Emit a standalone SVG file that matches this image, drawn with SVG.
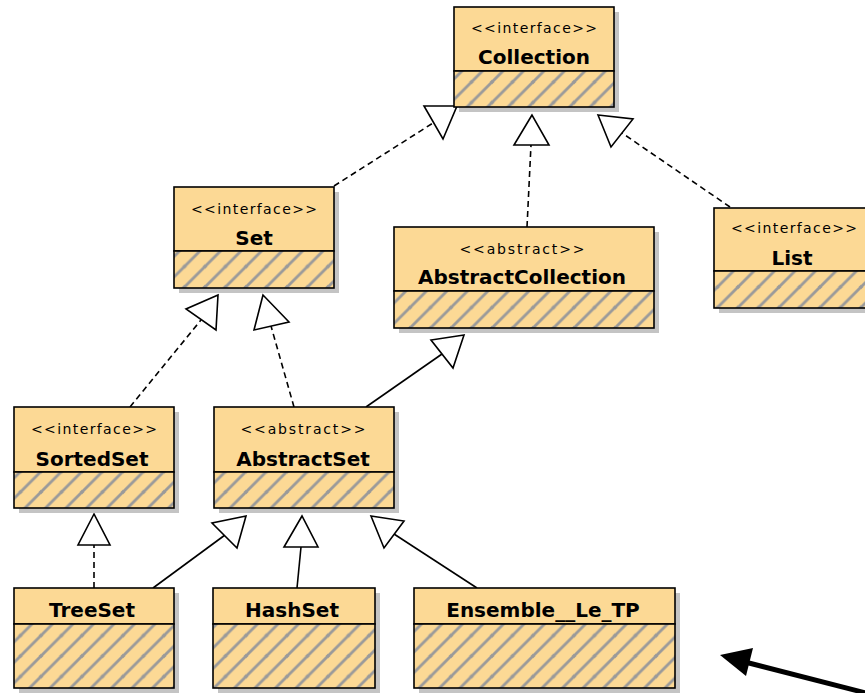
<svg xmlns="http://www.w3.org/2000/svg" width="865" height="693" viewBox="0 0 865 693">
<defs>
<pattern id="hatch" patternUnits="userSpaceOnUse" width="20.5" height="20.5">
<rect width="20.5" height="20.5" fill="#fcd995"/>
<path d="M-5,5.5 L5.5,-5 M0,20.5 L20.5,0 M15,25.5 L25.5,15" stroke="#9a9a9a" stroke-width="2.8"/>
</pattern>
</defs>
<style>
.shadow{fill:#c4c4c4}
.head{fill:#fcd995;stroke:#000;stroke-width:1.6}
.body{fill:url(#hatch);stroke:#000;stroke-width:1.6}
.st{font-family:"DejaVu Sans",sans-serif;font-size:14px;fill:#000;text-anchor:middle}
.nm{font-family:"DejaVu Sans",sans-serif;font-weight:bold;font-size:20px;fill:#000;text-anchor:middle}
.dash{fill:none;stroke:#000;stroke-width:1.6;stroke-dasharray:6 4}
.solid{fill:none;stroke:#000;stroke-width:1.6}
.tri{fill:#fff;stroke:#000;stroke-width:1.6;stroke-linejoin:miter}
</style>
<rect width="865" height="693" fill="#fff"/>

<g id="connectors">
<line class="dash" x1="334" y1="186" x2="433" y2="123"/>
<polygon class="tri" points="457,106 424,106 443,139"/>
<line class="dash" x1="527" y1="227" x2="531" y2="145"/>
<polygon class="tri" points="532,115 514,145 549,145"/>
<line class="dash" x1="730" y1="207" x2="622" y2="133"/>
<polygon class="tri" points="598,115 633,119 611,147"/>
<line class="dash" x1="130" y1="407" x2="201" y2="320"/>
<polygon class="tri" points="218,295 186,309 216,330"/>
<line class="dash" x1="294" y1="407" x2="271" y2="326"/>
<polygon class="tri" points="263,295 254,330 289,322"/>
<line class="solid" x1="366" y1="407" x2="442" y2="354"/>
<polygon class="tri" points="464,335 431,340 453,368"/>
<line class="dash" x1="94" y1="588" x2="94" y2="545"/>
<polygon class="tri" points="94,514 78,545 110,545"/>
<line class="solid" x1="153" y1="588" x2="225" y2="535"/>
<polygon class="tri" points="246,516 212,523 237,548"/>
<line class="solid" x1="297" y1="588" x2="301" y2="547"/>
<polygon class="tri" points="302,516 284,547 318,547"/>
<line class="solid" x1="477" y1="588" x2="394" y2="534"/>
<polygon class="tri" points="371,516 404,521 384,548"/>
</g>

<g id="Collection">
<rect class="shadow" x="459" y="12" width="160" height="100"/>
<rect class="head" x="454" y="7" width="160" height="64"/>
<rect class="body" x="454" y="71" width="160" height="36"/>
<text class="st" x="534" y="33" textLength="126" lengthAdjust="spacing">&lt;&lt;interface&gt;&gt;</text>
<text class="nm" x="534" y="64">Collection</text>
</g>

<g id="Set">
<rect class="shadow" x="179" y="192" width="160" height="101"/>
<rect class="head" x="174" y="187" width="160" height="64"/>
<rect class="body" x="174" y="251" width="160" height="37"/>
<text class="st" x="254" y="214" textLength="126" lengthAdjust="spacing">&lt;&lt;interface&gt;&gt;</text>
<text class="nm" x="254" y="245">Set</text>
</g>

<g id="AbstractCollection">
<rect class="shadow" x="399" y="232" width="260" height="101"/>
<rect class="head" x="394" y="227" width="260" height="64"/>
<rect class="body" x="394" y="291" width="260" height="37"/>
<text class="st" x="522" y="254" textLength="125" lengthAdjust="spacing">&lt;&lt;abstract&gt;&gt;</text>
<text class="nm" x="522" y="284">AbstractCollection</text>
</g>

<g id="List">
<rect class="shadow" x="719" y="213" width="160" height="100"/>
<rect class="head" x="714" y="208" width="160" height="63"/>
<rect class="body" x="714" y="271" width="160" height="37"/>
<text class="st" x="794" y="233" textLength="126" lengthAdjust="spacing">&lt;&lt;interface&gt;&gt;</text>
<text class="nm" x="792" y="265">List</text>
</g>

<g id="SortedSet">
<rect class="shadow" x="19" y="412" width="160" height="101"/>
<rect class="head" x="14" y="407" width="160" height="65"/>
<rect class="body" x="14" y="472" width="160" height="36"/>
<text class="st" x="94" y="434" textLength="126" lengthAdjust="spacing">&lt;&lt;interface&gt;&gt;</text>
<text class="nm" x="92" y="466">SortedSet</text>
</g>

<g id="AbstractSet">
<rect class="shadow" x="219" y="412" width="180" height="101"/>
<rect class="head" x="214" y="407" width="180" height="65"/>
<rect class="body" x="214" y="472" width="180" height="36"/>
<text class="st" x="303" y="434" textLength="125" lengthAdjust="spacing">&lt;&lt;abstract&gt;&gt;</text>
<text class="nm" x="303" y="466">AbstractSet</text>
</g>

<g id="TreeSet">
<rect class="shadow" x="19" y="593" width="160" height="100"/>
<rect class="head" x="14" y="588" width="160" height="36"/>
<rect class="body" x="14" y="624" width="160" height="64"/>
<text class="nm" x="92" y="617">TreeSet</text>
</g>

<g id="HashSet">
<rect class="shadow" x="218" y="593" width="162" height="100"/>
<rect class="head" x="213" y="588" width="162" height="36"/>
<rect class="body" x="213" y="624" width="162" height="64"/>
<text class="nm" x="292" y="617">HashSet</text>
</g>

<g id="Ensemble__Le_TP">
<rect class="shadow" x="419" y="593" width="261" height="100"/>
<rect class="head" x="414" y="588" width="261" height="36"/>
<rect class="body" x="414" y="624" width="261" height="64"/>
<text class="nm" x="543" y="617">Ensemble__Le_TP</text>
</g>

<g id="pointer">
<line x1="870" y1="694" x2="745" y2="662" stroke="#000" stroke-width="5"/>
<polygon points="720,655 753,648 746,676" fill="#000"/>
</g>
</svg>
